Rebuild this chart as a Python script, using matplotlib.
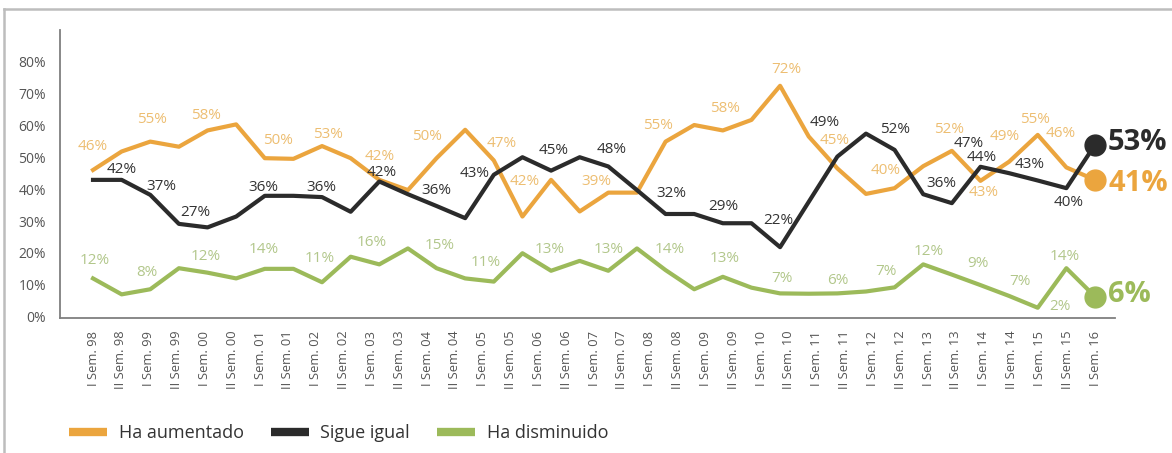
import numpy as np
import matplotlib
matplotlib.use("Agg")
import matplotlib.pyplot as plt
from matplotlib.lines import Line2D

plt.rcParams['font.family'] = ['Open Sans', 'DejaVu Sans']

# semester labels on the x axis (37 of them, the drawn series has 36 vertices)
years = ["98", "99", "00", "01", "02", "03", "04", "05", "06", "07", "08",
         "09", "10", "11", "12", "13", "14", "15"]
sem_labels = [f"{s} Sem. {y}" for y in years for s in ("I", "II")] + ["I Sem. 16"]

# series values as drawn (%)
aumentado = [46.0, 51.8, 54.9, 53.3, 58.4, 60.3, 49.7, 49.5, 53.5, 49.7,
             42.9, 39.7, 49.7, 58.6, 49.0, 31.4, 42.9, 33.0, 38.9, 38.9,
             54.9, 60.1, 58.4, 61.7, 72.4, 56.5, 46.5, 38.5, 40.3, 47.2,
             52.0, 42.6, 48.6, 57.0, 46.8, 42.9]
igual = [42.9, 42.9, 38.2, 29.1, 28.0, 31.4, 37.9, 37.9, 37.5, 32.9,
         42.4, 38.4, 34.7, 30.9, 44.5, 50.0, 45.8, 50.0, 47.1, 39.7,
         32.2, 32.2, 29.3, 29.3, 21.8, 36.0, 50.2, 57.4, 52.3, 38.4,
         35.6, 47.0, 45.0, 42.7, 40.3, 53.9]
disminuido = [12.0, 7.0, 8.6, 15.2, 13.8, 12.0, 15.0, 15.0, 10.8, 18.8,
              16.4, 21.4, 15.2, 12.0, 11.0, 19.9, 14.4, 17.5, 14.4, 21.4,
              14.6, 8.6, 12.5, 9.1, 7.3, 7.2, 7.3, 7.9, 9.2, 16.4,
              13.2, 9.9, 6.5, 2.8, 15.2, 6.3]

# printed value labels
aum_lbl = ["46%", "55%", "58%", "50%", "53%", "42%", "50%", "47%", "42%", "39%",
           "55%", "58%", "72%", "45%", "40%", "52%", "43%", "49%", "55%", "46%"]
igu_lbl = ["42%", "37%", "27%", "36%", "36%", "42%", "36%", "43%", "45%", "48%",
           "32%", "29%", "22%", "49%", "52%", "36%", "47%", "44%", "43%", "40%"]
dis_lbl = ["12%", "8%", "12%", "14%", "11%", "16%", "15%", "11%", "13%", "13%",
           "14%", "13%", "7%", "6%", "7%", "12%", "9%", "7%", "2%", "14%"]
final_lbl = ["41%", "53%", "6%"]
legend_names = ["Ha aumentado", "Sigue igual", "Ha disminuido"]

# where the printed labels sit (data coords)
aum_xy = [(0, 53.3), (2.05, 61.9), (3.94, 63.0), (6.47, 55.1), (8.22, 57.2),
          (10.0, 50.2), (11.65, 56.5), (14.27, 54.4), (15.09, 42.4), (17.6, 42.4),
          (19.75, 60.1), (22.07, 65.4), (24.23, 77.6), (25.9, 55.4), (27.7, 45.7),
          (29.9, 58.6), (31.1, 38.9), (31.85, 56.5), (32.9, 61.9), (33.8, 57.3)]
igu_xy = [(1.0, 46.2), (2.4, 40.8), (3.56, 32.6), (5.95, 40.5), (7.99, 40.5),
          (10.08, 45.2), (12.0, 39.5), (13.34, 45.0), (16.08, 52.0), (18.12, 52.5),
          (20.2, 38.7), (22.0, 34.7), (23.94, 30.3), (25.57, 60.9), (28.0, 58.8),
          (29.64, 41.8), (30.6, 54.2), (31.04, 50.0), (32.73, 47.6), (34.07, 35.8)]
dis_xy = [(0.07, 17.5), (1.88, 13.9), (3.94, 19.0), (5.95, 21.1), (7.93, 18.3),
          (9.73, 23.3), (12.12, 22.2), (13.7, 16.9), (15.96, 21.1), (18.0, 21.1),
          (20.15, 21.1), (22.07, 18.3), (24.05, 12.0), (26.03, 11.3), (27.7, 14.1),
          (29.18, 20.4), (30.92, 16.7), (32.38, 11.0), (33.78, 3.1), (33.95, 19.0)]

c_orange = "#EBA53E"
c_black = "#2B2B2B"
c_green = "#9CBA5A"
c_orange_lbl = "#EDBE72"
c_green_lbl = "#B2C78B"
c_black_lbl = "#333333"

fig = plt.figure(figsize=(11.72, 4.53), dpi=100)
ax = fig.add_axes([0.0512, 0.2974, 0.9002, 0.6364])

x = np.arange(len(aumentado))
ax.plot(x, disminuido, color=c_green, lw=3, zorder=3)
ax.plot(x, aumentado, color=c_orange, lw=3, zorder=3)
ax.plot(x, igual, color=c_black, lw=3, zorder=4)

# end markers and big final labels
for vals, col, txt, dy in [(aumentado, c_orange, final_lbl[0], -4),
                           (igual, c_black, final_lbl[1], 2),
                           (disminuido, c_green, final_lbl[2], 2)]:
    ax.plot(x[-1], vals[-1], 'o', ms=15, color=col, zorder=5)
    ax.annotate(txt, (x[-1], vals[-1]), xytext=(13, dy), textcoords='offset pixels',
                ha='left', va='center', fontsize=21, fontweight='bold', color=col,
                annotation_clip=False)

for labels, xy, col in [(aum_lbl, aum_xy, c_orange_lbl),
                        (igu_lbl, igu_xy, c_black_lbl),
                        (dis_lbl, dis_xy, c_green_lbl)]:
    for t, (lx, ly) in zip(labels, xy):
        ax.text(lx, ly, t, ha='center', va='center', fontsize=11, color=col, zorder=6)

ax.set_xlim(-1.153, 35.70)
ax.set_ylim(-0.5, 89.9)
ax.set_yticks(np.arange(0, 81, 10))
ax.set_yticklabels([f"{v}%" for v in range(0, 81, 10)])
ax.set_xticks(np.linspace(0, len(aumentado) - 1, len(sem_labels)))
ax.set_xticklabels(sem_labels, rotation=90)
ax.tick_params(axis='y', length=0, pad=10, labelsize=10, labelcolor="#555555")
ax.tick_params(axis='x', length=0, pad=9, labelsize=9.3, labelcolor="#555555")
for s in ["top", "right"]:
    ax.spines[s].set_visible(False)
for s in ["left", "bottom"]:
    ax.spines[s].set_color("#7F7F7F")
    ax.spines[s].set_linewidth(1.3)

handles = [Line2D([], [], color=c, lw=6, solid_capstyle='butt')
           for c in (c_orange, c_black, c_green)]
fig.legend(handles, legend_names, loc='center left', bbox_to_anchor=(0.045, 0.044),
           ncol=3, frameon=False, fontsize=13, handlelength=2.1, handletextpad=0.65,
           columnspacing=1.5, labelcolor="#333333")

# thin frame round the picture (top and left edges)
fig.add_artist(Line2D([0.0038, 1.0], [0.980, 0.980], color="#BDBDBD", lw=1.8))
fig.add_artist(Line2D([0.0038, 0.0038], [0.0, 0.980], color="#BDBDBD", lw=1.8))

fig.savefig("out.png", dpi=100)
